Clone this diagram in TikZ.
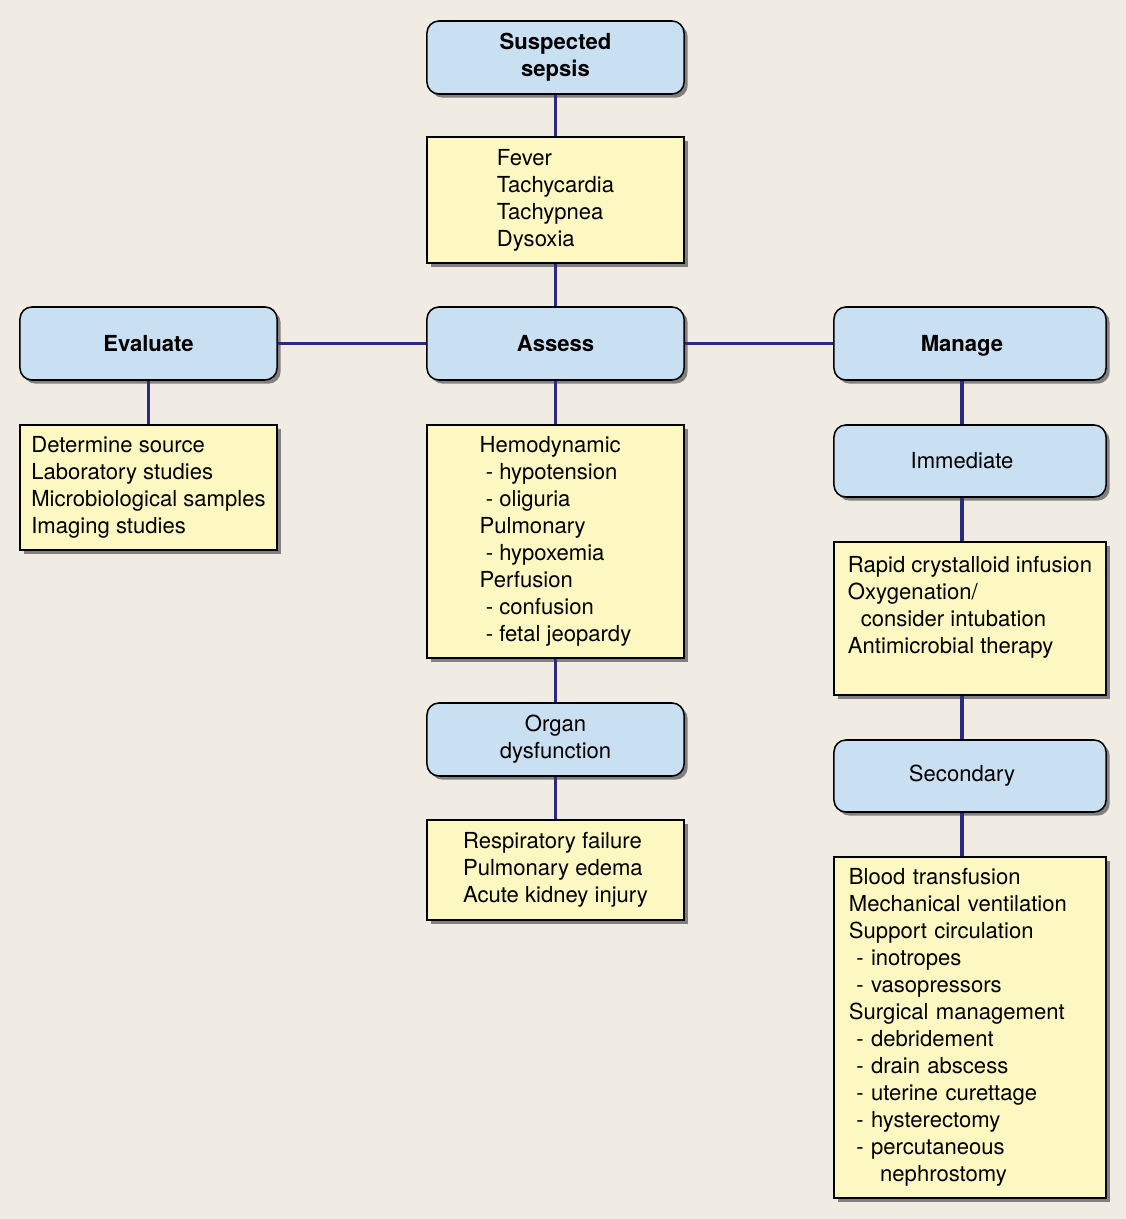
\documentclass[tikz,border=0pt]{standalone}
\usepackage{fontspec}
\setmainfont{TeX Gyre Heros}
\usetikzlibrary{shadows,positioning}
\definecolor{bgcol}{RGB}{240,236,227}
\definecolor{headfill}{RGB}{201,223,242}
\definecolor{listfill}{RGB}{253,248,194}
\definecolor{linkcol}{RGB}{43,42,127}
\tikzset{
 head/.style={draw,line width=1.1pt,rounded corners=8.5pt,fill=headfill,align=center,
             minimum width=6.425cm,minimum height=1.825cm,font=\fontsize{15.7}{19.2}\selectfont,
             drop shadow={shadow xshift=0.09cm,shadow yshift=-0.09cm,fill=black!60,opacity=0.8}},
 listbox/.style={draw,line width=1.1pt,fill=listfill,align=left,
             minimum width=6.425cm,font=\fontsize{15.7}{19.2}\selectfont,
             drop shadow={shadow xshift=0.09cm,shadow yshift=-0.09cm,fill=black!60,opacity=0.8}},
 widelist/.style={listbox,minimum width=6.8cm,text width=6.05cm,inner xsep=0.375cm},
 link/.style={draw=linkcol,line width=2.6pt}
}

\begin{document}
\begin{tikzpicture}[x=0.025cm,y=-0.025cm]
\fill[bgcol] (0,0) rectangle (1126,1219);
\useasboundingbox (0,0) rectangle (1126,1219);
% centre column
\node[head,font=\fontsize{15.7}{19.2}\selectfont\bfseries] (sepsis) at (555.5,57.5) {Suspected\\sepsis};
\node[listbox,minimum height=3.15cm] (signs) at (555.5,200) {Fever\\Tachycardia\\Tachypnea\\Dysoxia};
\node[head,font=\fontsize{15.7}{19.2}\selectfont\bfseries] (assess) at (555.5,343.5) {Assess};
\node[listbox,minimum height=5.825cm] (findings) at (555.5,541.5) {Hemodynamic\\\ - hypotension\\\ - oliguria\\Pulmonary\\\ - hypoxemia\\Perfusion\\\ - confusion\\\ - fetal jeopardy};
\node[head] (organ) at (555.5,739.5) {Organ\\dysfunction};
\node[listbox,minimum height=2.5cm] (failures) at (555.5,870) {Respiratory failure\\Pulmonary edema\\Acute kidney injury};
% left column
\node[head,font=\fontsize{15.7}{19.2}\selectfont\bfseries] (evaluate) at (148.5,343.5) {Evaluate};
\node[listbox,minimum height=3.125cm] (studies) at (148.5,487.5) {Determine source\\Laboratory studies\\Microbiological samples\\Imaging studies};
% right column
\node[head,minimum width=6.8cm,text depth=0pt,font=\fontsize{15.7}{19.2}\selectfont\bfseries] (manage) at (970,343.5) {Manage\hspace{0.4cm}};
\node[head,minimum width=6.8cm,minimum height=1.8cm] (immediate) at (970,461) {Immediate\hspace{0.4cm}};
\node[listbox,minimum width=6.8cm,minimum height=3.825cm] (firstaid) at (970,618.5) {Rapid crystalloid infusion\\Oxygenation/\\\hspace{0.32cm}consider intubation\\Antimicrobial therapy\\\mbox{}};
\node[head,minimum width=6.8cm,minimum height=1.8cm] (secondary) at (970,776) {Secondary\hspace{0.4cm}};
\node[widelist,minimum height=8.525cm] (support) at (970,1027.5) {Blood transfusion\\Mechanical ventilation\\Support circulation\\\ - inotropes\\\ - vasopressors\\Surgical management\\\ - debridement\\\ - drain abscess\\\ - uterine curettage\\\ - hysterectomy\\\ - percutaneous\\\hspace{0.78cm}nephrostomy};
% connectors
\draw[link] (sepsis)--(signs);
\draw[link] (signs)--(assess);
\draw[link] (evaluate)--(assess);
\draw[link] (assess)--(manage);
\draw[link] (evaluate)--(studies);
\draw[link] (assess)--(findings);
\draw[link] (findings)--(organ);
\draw[link] (organ)--(failures);
\draw[link] ([xshift=-0.2cm]manage.south)--([xshift=-0.2cm]immediate.north);
\draw[link] ([xshift=-0.2cm]immediate.south)--([xshift=-0.2cm]firstaid.north);
\draw[link] ([xshift=-0.2cm]firstaid.south)--([xshift=-0.2cm]secondary.north);
\draw[link] ([xshift=-0.2cm]secondary.south)--([xshift=-0.2cm]support.north);
\end{tikzpicture}
\end{document}
